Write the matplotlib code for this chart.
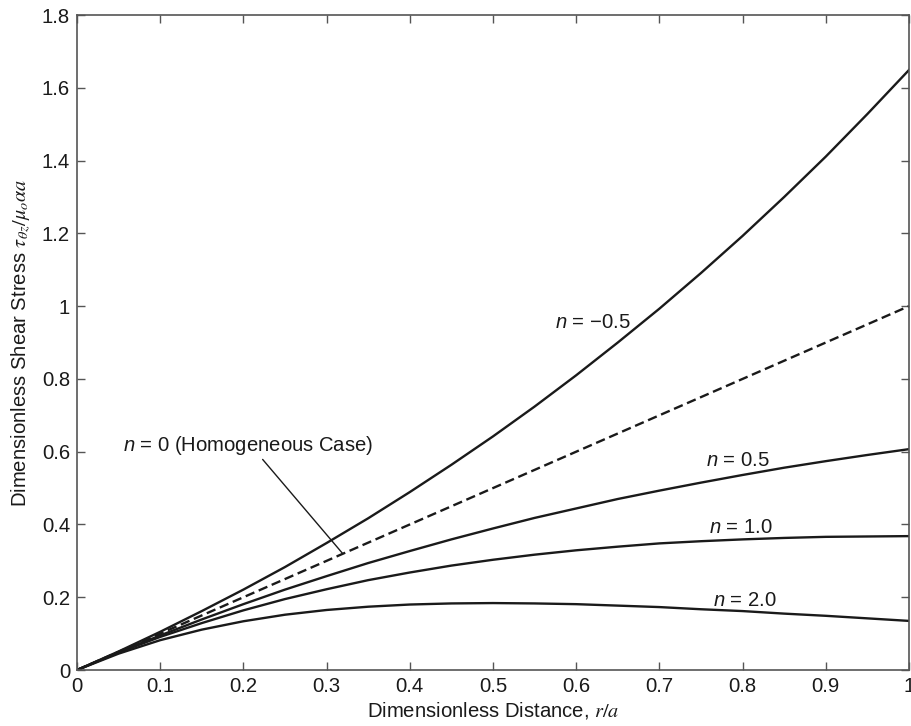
import matplotlib
matplotlib.use("Agg")
import matplotlib.pyplot as plt
from matplotlib.ticker import FuncFormatter

# ==============================
# DATA
# ==============================

r_over_a = [0.0, 0.05, 0.10, 0.15, 0.20, 0.25, 0.30, 0.35, 0.40, 0.45, 0.50,
            0.55, 0.60, 0.65, 0.70, 0.75, 0.80, 0.85, 0.90, 0.95, 1.0]

stress_n_m05 = [0.0, 0.051, 0.105, 0.162, 0.221, 0.283, 0.349, 0.417, 0.489, 0.564, 0.642,
                0.724, 0.810, 0.900, 0.993, 1.091, 1.193, 1.300, 1.411, 1.528, 1.649]
stress_n_0 = [0.0, 0.05, 0.10, 0.15, 0.20, 0.25, 0.30, 0.35, 0.40, 0.45, 0.50,
              0.55, 0.60, 0.65, 0.70, 0.75, 0.80, 0.85, 0.90, 0.95, 1.0]
stress_n_05 = [0.0, 0.049, 0.095, 0.139, 0.181, 0.221, 0.258, 0.294, 0.327, 0.359, 0.389,
               0.418, 0.444, 0.470, 0.493, 0.515, 0.536, 0.556, 0.574, 0.591, 0.607]
stress_n_1 = [0.0, 0.048, 0.091, 0.129, 0.164, 0.195, 0.222, 0.247, 0.268, 0.287, 0.303,
              0.317, 0.329, 0.339, 0.348, 0.354, 0.359, 0.363, 0.366, 0.367, 0.368]
stress_n_2 = [0.0, 0.045, 0.082, 0.111, 0.134, 0.152, 0.165, 0.174, 0.180, 0.183, 0.184,
              0.183, 0.181, 0.177, 0.173, 0.167, 0.162, 0.155, 0.149, 0.142, 0.135]

x_ticks = [0, 0.1, 0.2, 0.3, 0.4, 0.5, 0.6, 0.7, 0.8, 0.9, 1.0]
y_ticks = [0, 0.2, 0.4, 0.6, 0.8, 1.0, 1.2, 1.4, 1.6, 1.8]

# ==============================
# STYLE
# ==============================

plt.rcParams["font.family"] = ["Liberation Sans", "DejaVu Sans"]
# curve labels: sans italic "n"; axis labels use stix (serif) via math_fontfamily
plt.rcParams["mathtext.fontset"] = "custom"
plt.rcParams["mathtext.rm"] = "Liberation Sans"
plt.rcParams["mathtext.it"] = "Liberation Sans:italic"
plt.rcParams["font.size"] = 14.6

INK = "#1a1a1a"
FS = 14.6

fig = plt.figure(figsize=(9.12, 7.26), dpi=100)
ax = fig.add_axes([0.0844, 0.0771, 0.9123, 0.9022])

# ==============================
# CURVES
# ==============================

ax.plot(r_over_a, stress_n_m05, color=INK, lw=1.7)
ax.plot(r_over_a, stress_n_0, color=INK, lw=1.7, ls=(0, (4, 2)))
ax.plot(r_over_a, stress_n_05, color=INK, lw=1.7)
ax.plot(r_over_a, stress_n_1, color=INK, lw=1.7)
ax.plot(r_over_a, stress_n_2, color=INK, lw=1.7)

# curve labels
ax.text(0.574, 0.956, r"$n$ = $-$0.5", va="center", ha="left", color=INK, fontsize=FS)
ax.text(0.756, 0.577, r"$n$ = 0.5", va="center", ha="left", color=INK, fontsize=FS)
ax.text(0.760, 0.393, r"$n$ = 1.0", va="center", ha="left", color=INK, fontsize=FS)
ax.text(0.764, 0.192, r"$n$ = 2.0", va="center", ha="left", color=INK, fontsize=FS)
ax.annotate(r"$n$ = 0 (Homogeneous Case)", xy=(0.319, 0.321), xytext=(0.055, 0.618),
            va="center", ha="left", color=INK, fontsize=FS,
            arrowprops=dict(arrowstyle="-", color=INK, lw=1.0,
                            shrinkA=0, shrinkB=0, relpos=(0.55, 0.0)))

# ==============================
# AXES
# ==============================

ax.set_xlim(0, 1)
ax.set_ylim(0, 1.8)
ax.set_xticks(x_ticks)
ax.set_yticks(y_ticks)
ax.xaxis.set_major_formatter(FuncFormatter(lambda v, p: f"{v:g}"))
ax.yaxis.set_major_formatter(FuncFormatter(lambda v, p: f"{v:g}"))
ax.tick_params(direction="in", top=True, right=True, length=6, width=1,
               color="#555555", labelcolor=INK, labelsize=FS, pad=5)
for side in ax.spines.values():
    side.set_color("#555555")
    side.set_linewidth(1.2)

ax.set_xlabel(r"Dimensionless Distance, $\mathit{r/a}$", color=INK, fontsize=FS,
              labelpad=3, math_fontfamily="stix")
ax.set_ylabel(r"Dimensionless Shear Stress $\tau_{\theta z}/\mu_o\alpha a$", color=INK,
              fontsize=FS, labelpad=6, math_fontfamily="stix")

fig.savefig("out.png", dpi=100)
